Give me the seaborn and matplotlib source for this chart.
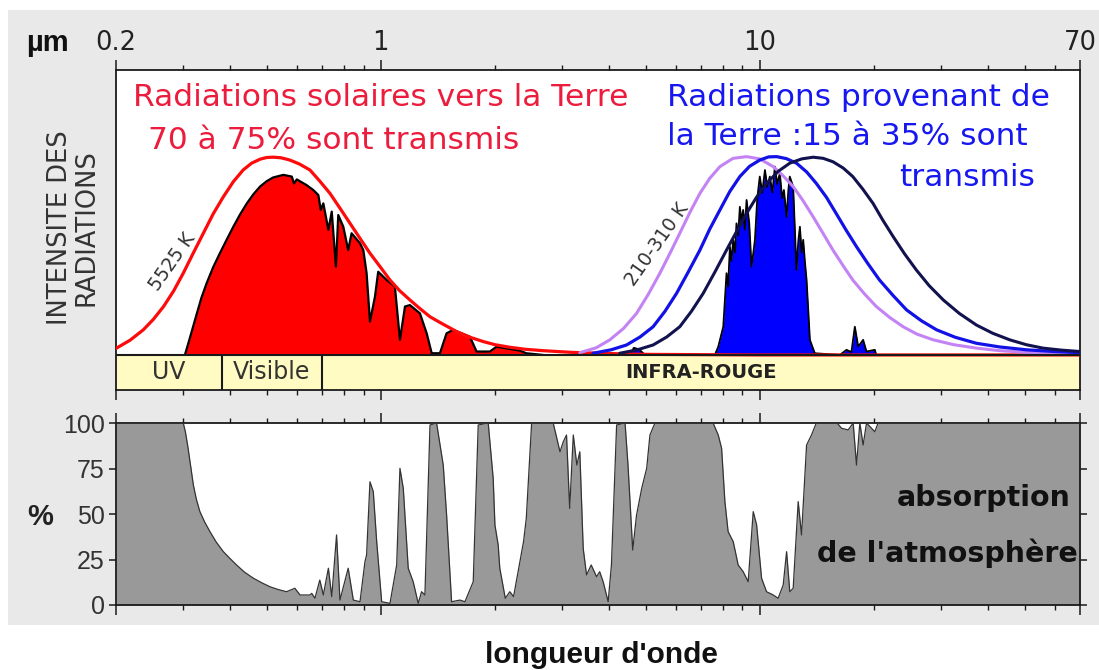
import numpy as np
import pandas as pd
import matplotlib
matplotlib.use('Agg')
import matplotlib.pyplot as plt
import seaborn as sns
from matplotlib.patches import Rectangle
from matplotlib.ticker import FixedLocator, NullFormatter

sns.set_theme(style='ticks')
plt.rcParams['font.family'] = ['DejaVu Sans']

# --- corps noir 5525 K (soleil)
sun_bb_wl = [0.2, 0.218, 0.236, 0.251, 0.267, 0.284, 0.301, 0.320, 0.340, 0.361, 0.384, 0.408,
             0.433, 0.456, 0.480, 0.500, 0.520, 0.545, 0.575, 0.610, 0.650, 0.690, 0.734, 0.780,
             0.829, 0.880, 0.936, 0.995, 1.057, 1.12, 1.193, 1.27, 1.348, 1.45, 1.585, 1.72,
             1.863, 2.0, 2.19, 2.4, 2.68, 3.2, 3.78, 4.4, 5.13, 10, 70]
sun_bb_i = [2.3, 5.2, 8.8, 12.5, 17, 22.5, 28.7, 35.8, 42.7, 49.5, 55.5, 60.8,
            64.9, 67.3, 68.7, 69.3, 69.4, 69.2, 68.4, 67.0, 64.9, 61.0, 56.7, 51.5,
            46.2, 41, 35.7, 31, 26.3, 22.6, 19.3, 16.2, 13.4, 11.0, 8.2, 6.2,
            4.7, 3.6, 2.7, 2.0, 1.5, 0.9, 0.6, 0.35, 0.2, 0, 0]

# --- spectre solaire transmis
sun_wl = [0.304, 0.314, 0.327, 0.336, 0.347, 0.361, 0.376, 0.392, 0.408, 0.425, 0.443, 0.461,
          0.480, 0.500, 0.520, 0.553, 0.582, 0.590,
          0.600, 0.637, 0.663, 0.684, 0.694, 0.705, 0.727, 0.742, 0.761, 0.772, 0.796, 0.820,
          0.837, 0.881, 0.899, 0.917, 0.936, 0.965, 0.984, 1.036, 1.089, 1.123, 1.158, 1.193,
          1.268, 1.321, 1.362, 1.432, 1.491, 1.552, 1.718, 1.789, 1.940, 2.02, 2.33, 2.42, 2.68]
sun_i = [0, 6.4, 14.6, 20, 25.2, 30.8, 35.7, 40.5, 45, 49.3, 53.2, 56.4,
         59.1, 61.0, 62.3, 63.2, 62.6, 60.2,
         61.6, 59.6, 57.9, 56.1, 50.9, 53.2, 43.9, 50.3, 31, 49.1, 45, 36.8,
         42.7, 39.2, 36.8, 28.7, 11.7, 20.5, 29.2, 26.3, 24, 5.3, 17, 17.5,
         14.6, 7.6, 0.6, 0.6, 7.6, 8.8, 6.4, 1.2, 1.2, 2.9, 1.5, 0.6, 0]

# --- corps noirs terrestres 210 / 260 / 310 K
bb_violet_wl = [3.35, 3.7, 4.02, 4.37, 4.73, 5.08, 5.45, 5.8, 6.15, 6.55, 6.95, 7.38, 7.85, 8.5,
                9.23, 10.0, 10.85, 11.5, 12.25, 13.0, 13.83, 14.7, 15.6, 16.6, 17.6, 18.9,
                20.3, 22.0, 23.9, 26.0, 28.7, 32.5, 37.3, 43, 50.6, 70]
bb_violet_i = [0.8, 2.5, 5.3, 9.3, 14.6, 21.3, 28.7, 35.8, 42.7, 50.2, 56.7, 62, 66.1, 69.0,
               69.6, 68.8, 66.1, 63.0, 59.1, 54.2, 48.5, 42.6, 36.8, 31.3, 26.3, 21.4,
               17, 13.2, 9.9, 7.3, 5.3, 3.6, 2.4, 1.5, 0.9, 0.6]
bb_blue_wl = [3.63, 4.05, 4.45, 4.83, 5.23, 5.62, 6.03, 6.48, 6.95, 7.38, 7.85, 8.33, 8.86, 9.4,
              10.0, 10.55, 11.08, 11.75, 12.5, 13.3, 14.1, 15.0, 15.9, 16.9, 18.0, 19.3,
              20.7, 22.5, 24.4, 26.7, 29.3, 32.8, 37.3, 43, 50.6, 60, 70]
bb_blue_i = [0.6, 1.8, 3.5, 6.3, 9.9, 15.3, 21.6, 29.2, 36.8, 44.2, 50.9, 57.3, 62.6, 66.2,
             68.4, 69.5, 69.6, 68.9, 67.3, 64.2, 60.2, 55.3, 49.7, 43.8, 38, 32.0,
             26.3, 20.8, 15.8, 12.0, 8.8, 6.2, 4.1, 2.8, 1.8, 1.2, 0.8]
bb_navy_wl = [4.27, 4.75, 5.23, 5.68, 6.15, 6.6, 7.09, 7.62, 8.17, 8.7, 9.23, 9.8, 10.42, 11.2,
              12.0, 12.9, 13.83, 14.7, 15.6, 16.6, 17.6, 18.7, 19.9, 21.1, 22.5, 24.1,
              25.9, 28.0, 30.5, 33.6, 37.3, 41.2, 45.7, 50.5, 55.9, 62.5, 70]
bb_navy_i = [0.6, 1.8, 3.5, 6.3, 9.9, 15.3, 21.6, 29.2, 36.8, 43.5, 49.7, 55.3, 60.2, 64.5,
             67.3, 68.8, 69.4, 69.0, 67.8, 65.6, 62.6, 58.2, 53.2, 47.4, 41.5, 35.5,
             29.8, 24.3, 19.3, 14.6, 10.5, 7.6, 5.3, 3.6, 2.4, 1.7, 1.2]

# --- rayonnement terrestre transmis
earth_wl = [4.55, 4.65, 4.80, 4.98, 7.61, 7.77, 8.01, 8.17, 8.25, 8.34, 8.42, 8.51, 8.60, 8.68,
            8.77, 8.86, 8.95, 9.04, 9.13, 9.23, 9.38, 9.51, 9.62, 9.71, 9.85, 10.0, 10.15,
            10.32, 10.47, 10.63, 10.80, 10.96, 11.12, 11.30, 11.45, 11.58, 11.77, 11.90, 12.0,
            12.25, 12.5, 12.64, 12.76, 12.9, 13.02, 13.15, 13.29, 13.56, 13.97,
            16.27, 16.94, 17.45, 17.82, 18.19, 18.74, 19.13, 20.12, 20.3]
earth_i = [0, 2.5, 2.0, 0, 0, 2.9, 9.9, 28.7, 24, 38, 33, 40.4, 36, 46.2,
           42, 52, 47, 50.9, 44, 54.4, 46.2, 31, 36, 40.4, 55, 62.6, 57,
           64.9, 59, 62.6, 57, 66.1, 60, 63.8, 55, 57.9, 48.5, 58, 62.6,
           59.1, 29.8, 40, 45, 36, 40.4, 33, 26.3, 5.3, 0.6,
           0, 1.8, 1.0, 9.9, 2.9, 5.3, 1.2, 1.8, 0]

# --- absorption de l'atmosphere (%)
abs_wl = [0.2, 0.301, 0.305, 0.310, 0.315, 0.320, 0.326, 0.333, 0.343, 0.354, 0.368, 0.384,
          0.400, 0.416, 0.437, 0.461, 0.485, 0.510, 0.536, 0.564, 0.593,
          0.612, 0.650, 0.657, 0.670, 0.690, 0.705, 0.727, 0.742, 0.764, 0.780, 0.820, 0.846,
          0.881, 0.908, 0.917, 0.936, 0.955, 0.975, 1.005, 1.057, 1.101, 1.123, 1.146, 1.181,
          1.217, 1.255, 1.281, 1.307, 1.348, 1.403, 1.461, 1.491, 1.537, 1.617, 1.667, 1.753,
          1.807, 1.920, 1.979, 2.00, 2.04, 2.06, 2.13, 2.19, 2.24, 2.38, 2.42, 2.50,
          2.85, 2.97, 3.03, 3.09, 3.15, 3.22, 3.29, 3.35, 3.42, 3.49, 3.59, 3.71,
          3.78, 3.86, 3.98, 4.06, 4.19, 4.41, 4.49, 4.62, 4.73, 4.88, 5.03, 5.13,
          5.29, 7.53, 7.77, 7.93, 8.09, 8.25, 8.51, 8.77, 9.04, 9.32, 9.61, 9.81,
          10.11, 10.42, 10.85, 11.18, 11.53, 11.77, 12.0, 12.25, 12.63, 12.89, 13.29, 13.69,
          14.1, 16.0, 16.44, 17.11, 17.64, 18.0, 18.37, 18.74, 19.13, 20.12, 20.52, 70]
abs_pct = [100, 100, 95, 86, 76, 66, 58, 51.3, 45.5, 40.3, 34.5, 29.3,
           25.5, 22, 18, 14.7, 12.2, 10, 8.5, 7.3, 9.2,
           5.5, 5.5, 6.4, 3.7, 13.7, 5.5, 20.2, 4.6, 38.5, 2.7, 20.2, 2.7,
           1.8, 23.8, 27.5, 67.7, 62.3, 34.8, 1.8, 0.9, 22, 75.1, 64.1, 20.2,
           12.8, 0.9, 7.3, 5.5, 98.9, 100, 76.9, 49.5, 1.8, 2.7, 1.8, 12.8,
           98.9, 100, 69.6, 44, 33, 20.2, 3.7, 7.3, 4.6, 34.8, 47.6, 100,
           100, 84.2, 89.7, 93.4, 53.1, 93.4, 76.9, 84.2, 31.1, 16.5, 22, 15.5,
           18.3, 12.8, 1.8, 22, 98.9, 100, 76.9, 30.2, 49.5, 64.1, 75.1, 93.4,
           100, 100, 93.4, 86.1, 56.8, 40.3, 34.8, 22, 18.3, 12.8, 51.3, 44,
           14.7, 7.3, 5.5, 3.7, 11, 29.3, 7.3, 9.2, 56.8, 38.5, 87.9, 93.4,
           100, 100, 97.1, 96.2, 100, 76.9, 100, 87.9, 100, 95.2, 100, 100]

# bandes spectrales
band_edges = [0.2, 0.38, 0.7, 70]
band_names = ['UV', 'Visible', 'INFRA-ROUGE']

major_ticks = [0.2, 1, 10, 70]
major_labels = ['0.2', '1', '10', '70']
minor_ticks = [0.3, 0.4, 0.5, 0.6, 0.7, 0.8, 0.9, 2, 3, 4, 5, 6, 7, 8, 9, 20, 30, 40, 50, 60]
pct_ticks = [0, 25, 50, 75, 100]

W, H = 1099, 670
fig = plt.figure(figsize=(W / 100, H / 100), dpi=100)
fig.patch.set_facecolor('white')
fig.add_artist(Rectangle((8 / W, 1 - 625 / H), 1 - 8 / W, 615 / H, transform=fig.transFigure,
                         facecolor='#e9e9e9', edgecolor='none', zorder=0))

ax1 = fig.add_axes([116 / W, 1 - 390 / H, 964 / W, 320 / H])
ax2 = fig.add_axes([116 / W, 1 - 605 / H, 964 / W, 182 / H])

band_bottom = -12.3
for ax in (ax1, ax2):
    ax.set_xscale('log')
    ax.set_xlim(0.2, 70)
    ax.set_facecolor('white')
    for s in ax.spines.values():
        s.set_color('#1a1a1a')
        s.set_linewidth(1.3)
    ax.set_xticks(major_ticks)
    ax.xaxis.set_minor_locator(FixedLocator(minor_ticks))
    ax.xaxis.set_minor_formatter(NullFormatter())
    ax.tick_params(axis='x', which='major', length=7, width=1.1, color='#1a1a1a', direction='out')
    ax.tick_params(axis='x', which='minor', length=3.5, width=1.0, color='#1a1a1a', direction='out')

# ---------------- panneau du haut
ax1.set_ylim(band_bottom, 100)
ax1.set_xticklabels(major_labels)
ax1.tick_params(axis='x', which='both', top=True, bottom=True, labeltop=True, labelbottom=False)
ax1.tick_params(axis='x', which='major', labelsize=18.5, labelcolor='#222222', pad=3)
ax1.tick_params(axis='y', left=False, labelleft=False)

ax1.axhspan(band_bottom, 0, color='#fffbc2', zorder=1)
ax1.axhline(0, color='#1a1a1a', lw=1.5, zorder=5)
ax1.vlines(band_edges[1:3], band_bottom, 0, color='#1a1a1a', lw=1.5, zorder=5)
for k, name in enumerate(band_names):
    xc = np.sqrt(band_edges[k] * band_edges[k + 1])
    if name == 'INFRA-ROUGE':
        ax1.text(xc, band_bottom / 2, name, ha='center', va='center', fontsize=14,
                 fontweight='bold', color='#222222')
    else:
        ax1.text(xc, band_bottom / 2, name, ha='center', va='center', fontsize=17,
                 color='#333333')

ax1.fill_between(sun_wl, 0, sun_i, color='#ff0000', lw=0, zorder=2)
sns.lineplot(x=sun_wl, y=sun_i, ax=ax1, color='black', lw=1.6, zorder=3)
ax1.fill_between(earth_wl, 0, earth_i, color='#0000ff', lw=0, zorder=2)
sns.lineplot(x=earth_wl, y=earth_i, ax=ax1, color='black', lw=1.3, zorder=3)

sns.lineplot(x=sun_bb_wl, y=sun_bb_i, ax=ax1, color='#ff0a0a', lw=2.3, zorder=4)
sns.lineplot(x=bb_violet_wl, y=bb_violet_i, ax=ax1, color='#c483f5', lw=2.2, zorder=4)
sns.lineplot(x=bb_blue_wl, y=bb_blue_i, ax=ax1, color='#1212e6', lw=2.3, zorder=4)
sns.lineplot(x=bb_navy_wl, y=bb_navy_i, ax=ax1, color='#12124f', lw=2.2, zorder=4)
ax1.set_xlabel('')
ax1.set_ylabel('')

red = '#ec1c3c'
blue = '#1717f0'
tsize = 22.5
ax1.text(1.0, 90.5, 'Radiations solaires vers la Terre', color=red, fontsize=tsize,
         ha='center', va='center')
ax1.text(0.752, 75.4, '70 à 75% sont transmis', color=red, fontsize=tsize,
         ha='center', va='center')
ax1.text(5.69, 90.5, 'Radiations provenant de', color=blue, fontsize=tsize,
         ha='left', va='center')
ax1.text(5.69, 76.5, 'la Terre :15 à 35% sont', color=blue, fontsize=tsize,
         ha='left', va='center')
ax1.text(53.2, 62.1, 'transmis', color=blue, fontsize=tsize, ha='right', va='center')
ax1.text(0.281, 32.6, '5525 K', color='#333333', fontsize=13.5, rotation=55,
         ha='center', va='center')
ax1.text(5.35, 38.6, '210-310 K', color='#333333', fontsize=13.5, rotation=55,
         ha='center', va='center')

fig.text(73 / W, 1 - 228 / H, 'INTENSITE DES\nRADIATIONS', rotation=90, ha='center',
         va='center', fontsize=18.5, color='#333333', linespacing=1.0)
fig.text(47 / W, 1 - 43 / H, 'µm', fontsize=21, fontweight='bold', color='#111111',
         ha='center', va='center', family=['Liberation Sans', 'DejaVu Sans'])

# ---------------- panneau du bas
ax2.set_ylim(0, 100)
ax2.fill_between(abs_wl, 0, abs_pct, color='#999999', lw=0, zorder=2)
sns.lineplot(x=abs_wl, y=abs_pct, ax=ax2, color='#333333', lw=0.9, zorder=3)
ax2.set_xlabel('')
ax2.set_ylabel('')
ax2.set_xticklabels([])
ax2.tick_params(axis='x', which='both', top=True, bottom=True, labeltop=False, labelbottom=False)
ax2.set_yticks(pct_ticks)
ax2.tick_params(axis='y', left=True, right=True, labelleft=True, labelright=False,
                length=5, width=1.1, color='#1a1a1a', direction='out', labelsize=18,
                labelcolor='#333333', pad=3)
for lab in ax2.get_yticklabels():
    lab.set_family(['Liberation Sans', 'DejaVu Sans'])

ax2.text(0.99, 0.588, 'absorption', transform=ax2.transAxes, ha='right', va='center',
         fontsize=20.5, fontweight='bold', color='#111111', zorder=6)
ax2.text(0.998, 0.286, "de l'atmosphère", transform=ax2.transAxes, ha='right', va='center',
         fontsize=20.5, fontweight='bold', color='#111111', zorder=6)

fig.text(40 / W, 1 - 517 / H, '%', fontsize=21, fontweight='bold', color='#222222',
         ha='center', va='center', family=['Liberation Sans', 'DejaVu Sans'])
fig.text(601 / W, 1 - 655 / H, "longueur d'onde", fontsize=21.5, fontweight='bold',
         color='#111111', ha='center', va='center',
         family=['Liberation Sans Narrow', 'Liberation Sans', 'DejaVu Sans'])

fig.savefig('out.png', dpi=100)
